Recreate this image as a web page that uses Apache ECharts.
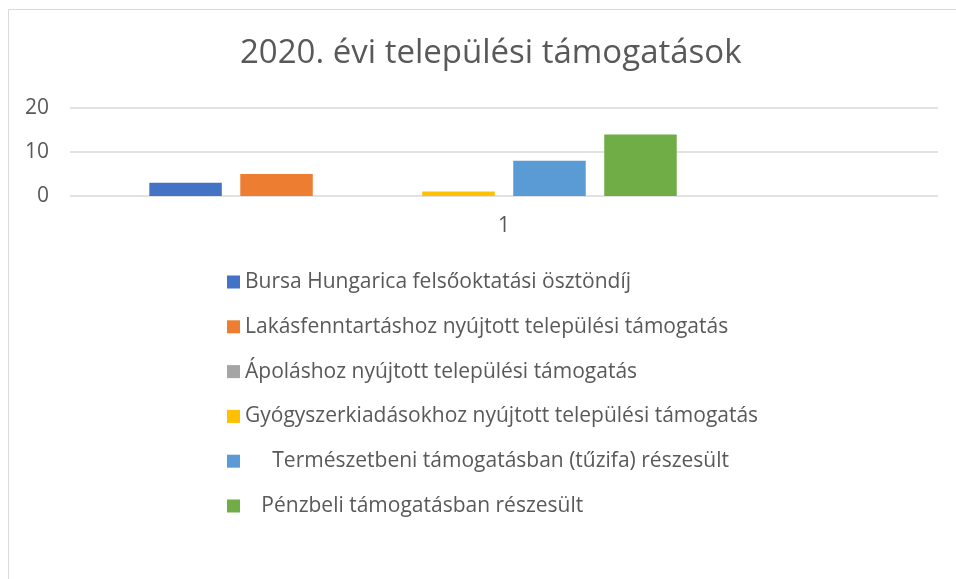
<!DOCTYPE html>
<html>
<head>
<meta charset="utf-8">
<script src="https://cdn.jsdelivr.net/npm/echarts@6/dist/echarts.min.js"></script>
<style>html,body{margin:0;padding:0;background:#fff;}#c{width:956px;height:579px;}</style>
</head>
<body>
<div id="c"></div>
<script>
const titleText = '2020. évi települési támogatások';
const categories = ['1'];
const seriesNames = [
  'Bursa Hungarica felsőoktatási ösztöndíj',
  'Lakásfenntartáshoz nyújtott települési támogatás',
  'Ápoláshoz nyújtott települési támogatás',
  'Gyógyszerkiadásokhoz nyújtott települési támogatás',
  '     Természetbeni támogatásban (tűzifa) részesült',
  '   Pénzbeli támogatásban részesült'
];
const seriesValues = [3, 5, 0, 1, 8, 14];
const placeholderSlots = 2;
const yTicks = { min: 0, max: 20, interval: 10 };
const colors = ['#4472C4', '#ED7D31', '#A5A5A5', '#FFC000', '#5B9BD5', '#70AD47'];

const font = 'Open Sans';
const txt = '#595959';

const series = seriesNames.map((n, i) => ({
  name: n,
  type: 'bar',
  data: [seriesValues[i]],
  barWidth: 72.5,
  barGap: '25.5%',
  itemStyle: { color: colors[i] },
  emphasis: { disabled: true }
}));
for (let k = 0; k < placeholderSlots; k++) {
  series.push({ name: 'slot' + k, type: 'bar', data: ['-'], barWidth: 72.5, barGap: '25.5%' });
}

const chart = echarts.init(document.getElementById('c'), null, { renderer: 'canvas' });
chart.setOption({
  animation: false,
  backgroundColor: '#fff',
  graphic: [{
    type: 'rect', silent: true, z: -1,
    shape: { x: 8.5, y: 9.5, width: 1100, height: 1100 },
    style: { fill: 'none', stroke: '#d9d9d9', lineWidth: 1 }
  }],
  title: {
    text: titleText, left: 235, top: 32,
    textStyle: { fontFamily: font, fontSize: 33, fontWeight: 'normal', color: txt }
  },
  grid: { left: 70, right: 18, top: 108, bottom: 383, containLabel: false },
  xAxis: {
    type: 'category', data: categories,
    axisLine: { show: false }, axisTick: { show: false },
    axisLabel: { margin: 20, fontFamily: font, fontSize: 21, color: txt }
  },
  yAxis: {
    type: 'value', min: yTicks.min, max: yTicks.max, interval: yTicks.interval,
    axisLine: { show: false }, axisTick: { show: false },
    axisLabel: { margin: 21, fontFamily: font, fontSize: 21, color: txt },
    splitLine: { lineStyle: { color: '#d9d9d9', width: 1.5 } }
  },
  legend: {
    data: seriesNames,
    orient: 'vertical', left: 222, top: 266,
    itemWidth: 13, itemHeight: 13, itemGap: 22.8, icon: 'rect',
    textStyle: { fontFamily: font, fontSize: 21, color: txt, lineHeight: 22 },
    selectedMode: false
  },
  series: series
});
</script>
</body>
</html>
